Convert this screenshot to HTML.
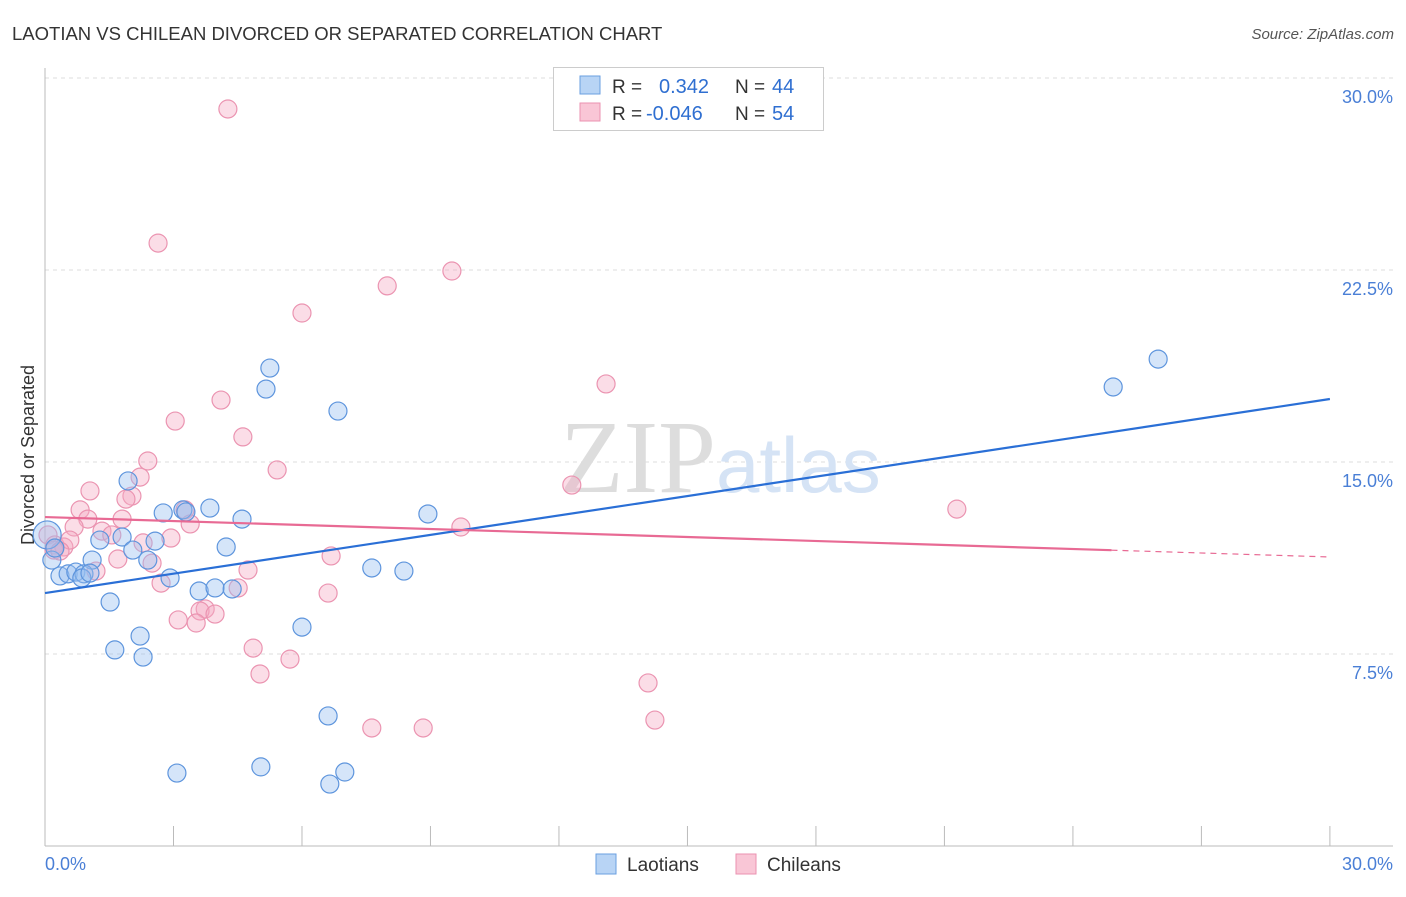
<!DOCTYPE html>
<html><head><meta charset="utf-8"><style>
body{margin:0;background:#fff;font-family:"Liberation Sans",sans-serif}
svg text{font-family:"Liberation Sans",sans-serif}
</style></head><body>
<svg width="1406" height="892" xmlns="http://www.w3.org/2000/svg">
<text x="12" y="40" font-size="18.5" fill="#333">LAOTIAN VS CHILEAN DIVORCED OR SEPARATED CORRELATION CHART</text>
<text x="1394" y="39" font-size="15" fill="#555" text-anchor="end" font-style="italic">Source: ZipAtlas.com</text>
<g id="grid"></g>
<text x="716" y="492" font-size="104" fill="#ddd" text-anchor="end" style="font-family:'Liberation Serif',serif">ZIP</text>
<text x="716" y="492" font-size="78" fill="#d5e3f5">atlas</text>
<text x="34" y="455" font-size="18" fill="#333" text-anchor="middle" transform="rotate(-90 34 455)">Divorced or Separated</text>
<g id="pts"></g>
<g id="lines"></g>
<g>
<rect x="553.5" y="67.5" width="270" height="63" fill="#fff" stroke="#ccc"/>
<rect x="580" y="76" width="20" height="18" fill="#b8d4f5" stroke="#6a9fe0"/>
<rect x="580" y="103" width="20" height="18" fill="#f9c6d6" stroke="#eb92b0"/>
<text x="612" y="93" font-size="19" fill="#333">R =</text><text x="659" y="93" font-size="20" fill="#2f6fd1">0.342</text>
<text x="735" y="93" font-size="19" fill="#333">N =</text><text x="772" y="93" font-size="20" fill="#2f6fd1">44</text>
<text x="612" y="120" font-size="19" fill="#333">R =</text><text x="646" y="120" font-size="20" fill="#2f6fd1">-0.046</text>
<text x="735" y="120" font-size="19" fill="#333">N =</text><text x="772" y="120" font-size="20" fill="#2f6fd1">54</text>
</g>
<g>
<rect x="596" y="854" width="20" height="20" fill="#b8d4f5" stroke="#6a9fe0"/>
<text x="627" y="871" font-size="19" fill="#333">Laotians</text>
<rect x="736" y="854" width="20" height="20" fill="#f9c6d6" stroke="#eb92b0"/>
<text x="767" y="871" font-size="19" fill="#333">Chileans</text>
</g>
</svg>
<script>
const blueX=[5.25,5.16,6.84,25.99,24.94,1.94,3.85,3.22,2.76,4.60,8.94,1.28,1.80,2.57,2.05,4.23,2.40,1.10,0.16,0.35,0.54,0.72,0.91,0.86,2.92,7.63,8.38,3.60,3.97,4.37,1.52,6.00,2.22,1.63,2.29,6.61,3.08,5.04,7.00,6.65,0.05,0.23,1.05,3.29];
const blueY=[18.67,17.85,16.99,19.02,17.93,14.26,13.20,13.13,13.01,12.77,12.97,11.95,12.07,11.91,11.56,11.68,11.17,11.17,11.17,10.55,10.63,10.70,10.63,10.47,10.47,10.86,10.74,9.96,10.08,10.04,9.53,8.55,8.20,7.66,7.38,5.08,2.85,3.09,2.89,2.42,12.15,11.64,10.66,13.05];
const pinkX=[4.27,2.64,9.50,7.99,6.00,13.10,4.11,3.04,4.62,2.40,5.42,2.22,1.05,12.30,2.03,1.89,0.82,3.27,21.29,1.00,1.80,3.39,9.71,0.68,1.33,1.56,2.94,2.29,0.07,0.23,0.44,0.58,6.68,2.50,1.70,1.19,4.74,2.71,4.51,6.61,3.74,3.62,3.97,3.11,3.53,4.86,5.72,5.02,14.08,14.24,7.63,8.83,0.21,0.35];
const pinkY=[28.79,23.55,22.46,21.88,20.82,18.05,17.42,16.60,15.98,15.04,14.69,14.41,13.87,14.10,13.67,13.55,13.13,13.13,13.16,12.77,12.77,12.58,12.46,12.46,12.30,12.15,12.03,11.84,12.15,11.76,11.68,11.95,11.33,11.05,11.21,10.74,10.78,10.27,10.08,9.88,9.26,9.18,9.06,8.83,8.71,7.73,7.30,6.72,6.37,4.92,4.61,4.61,11.56,11.52];
const yTicks=[7.5,15,22.5,30];
const yTickLabels=["7.5%","15.0%","22.5%","30.0%"];
const xTickLabels=["0.0%","30.0%"];
const blueTrend=[9.88,17.46];
const pinkTrend=[12.85,11.29];
const pinkSolidEnd=24.9;
const NS="http://www.w3.org/2000/svg";
const sx=v=>45+v*42.83, sy=v=>846-v*25.6;
function mk(tag,attrs,parent){const e=document.createElementNS(NS,tag);for(const k in attrs)e.setAttribute(k,attrs[k]);parent.appendChild(e);return e;}
const grid=document.getElementById('grid');
yTicks.forEach((t,i)=>{
 const l=mk('line',{x1:45,x2:1393,y1:sy(t),y2:sy(t),stroke:'#ddd','stroke-dasharray':'4,4'},grid);
 
 
 const tx=mk('text',{x:1393,y:sy(t)+25,'font-size':18,fill:'#4a7fd6','text-anchor':'end'},grid);
 tx.textContent=yTickLabels[i];
 
 
});
let a=mk('line',{x1:45,x2:45,y1:68,y2:846,stroke:'#bbb'},grid);


a=mk('line',{x1:45,x2:1393,y1:846,y2:846,stroke:'#bbb'},grid);


for(let k=0;k<=10;k++){const t=mk('line',{x1:sx(k*3),x2:sx(k*3),y1:826,y2:846,stroke:'#bbb'},grid);
 
 }
let xl=mk('text',{x:45,y:870,'font-size':18,fill:'#4a7fd6'},grid);xl.textContent=xTickLabels[0];


xl=mk('text',{x:1393,y:870,'font-size':18,fill:'#4a7fd6','text-anchor':'end'},grid);xl.textContent=xTickLabels[1];


const pts=document.getElementById('pts');
pinkX.forEach((x,i)=>{const c=mk('circle',{cx:sx(x),cy:sy(pinkY[i]),r:9,fill:'rgba(246,170,196,0.4)',stroke:'#eb94b1','stroke-width':1.2},pts);
 
 });
blueX.forEach((x,i)=>{const c=mk('circle',{cx:sx(x),cy:sy(blueY[i]),r:(i==40?14:9),fill:'rgba(150,190,240,0.4)',stroke:'#5e95dd','stroke-width':1.2},pts);
 
 });
const lines=document.getElementById('lines');
let l=mk('line',{x1:sx(0),y1:sy(blueTrend[0]),x2:sx(30),y2:sy(blueTrend[1]),stroke:'#2a6fd6','stroke-width':2.2},lines);


const pe=pinkTrend[0]+(pinkTrend[1]-pinkTrend[0])*pinkSolidEnd/30;
l=mk('line',{x1:sx(0),y1:sy(pinkTrend[0]),x2:sx(pinkSolidEnd),y2:sy(pe),stroke:'#e86a94','stroke-width':2.2},lines);


l=mk('line',{x1:sx(pinkSolidEnd),y1:sy(pe),x2:sx(30),y2:sy(pinkTrend[1]),stroke:'#e86a94','stroke-width':1.2,'stroke-dasharray':'6,5'},lines);


</script>
</body></html>
